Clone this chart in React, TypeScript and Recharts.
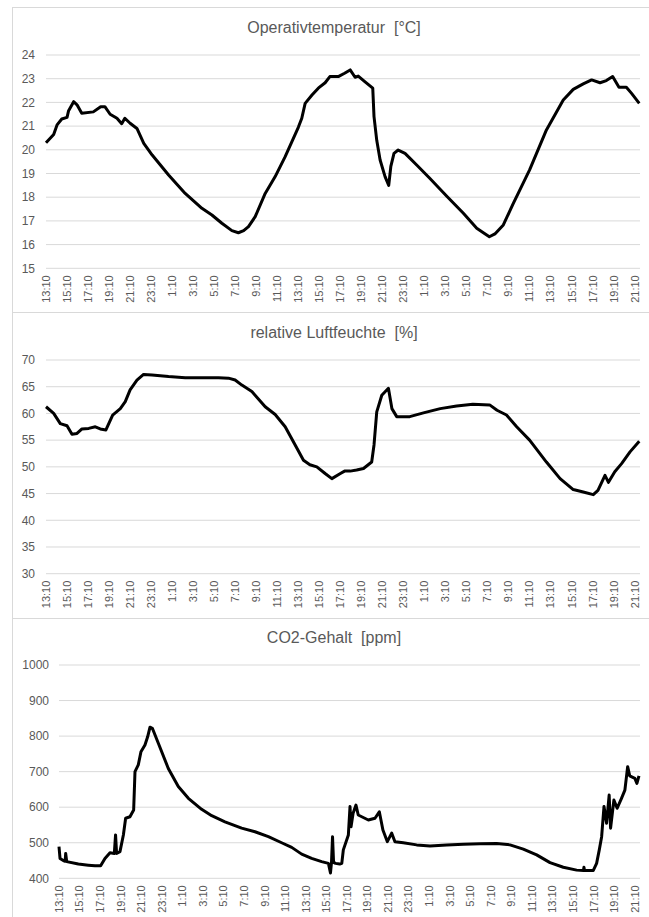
import React from "react";
import { LineChart, Line, XAxis, YAxis, CartesianGrid } from "recharts";

// x axis: hours since 13:10 on the first day, labelled every 2 h
const timeLabels = [
  "13:10", "15:10", "17:10", "19:10", "21:10", "23:10",
  "1:10", "3:10", "5:10", "7:10", "9:10", "11:10", "13:10", "15:10", "17:10", "19:10", "21:10", "23:10",
  "1:10", "3:10", "5:10", "7:10", "9:10", "11:10", "13:10", "15:10", "17:10", "19:10", "21:10",
];
const timeTicks = timeLabels.map((_, i) => i * 2);

// Operativtemperatur [°C]
const tempHours = [
  0, 0.73, 1.05, 1.5, 2.0, 2.15, 2.63, 2.95, 3.4, 4.5, 5.2, 5.6, 6.1, 6.75, 7.2, 7.5, 8.0, 8.65, 9.3,
  10.1, 11.66, 13.24, 14.83, 15.78, 16.73, 17.68, 18.3, 18.8, 19.26, 19.9, 20.85, 21.8, 22.75, 24.0,
  24.33, 24.65, 25.3, 25.9, 26.55, 27.0, 27.8, 28.4, 28.93, 29.4, 29.7, 30.35, 31.08, 31.2, 31.46,
  31.78, 32.25, 32.6, 32.8, 33.1, 33.5, 34.15, 35.26, 36.5, 38.1, 39.7, 40.97, 41.6, 42.17, 42.7,
  43.5, 44.45, 46.0, 47.6, 49.2, 50.15, 51.1, 51.9, 52.7, 53.3, 53.9, 54.5, 55.2, 55.7, 56.43,
];
const tempValues = [
  20.3, 20.65, 21.05, 21.3, 21.37, 21.65, 22.03, 21.9, 21.54, 21.6, 21.82, 21.82, 21.5, 21.33, 21.1,
  21.33, 21.12, 20.9, 20.27, 19.78, 18.94, 18.16, 17.53, 17.25, 16.9, 16.59, 16.5, 16.59, 16.76,
  17.18, 18.16, 18.87, 19.71, 20.95, 21.33, 21.96, 22.31, 22.6, 22.83, 23.09, 23.09, 23.23, 23.37,
  23.06, 23.11, 22.87, 22.6, 21.4, 20.4, 19.57, 18.87, 18.5, 19.3, 19.85, 19.99, 19.85, 19.36, 18.8,
  18.05, 17.32, 16.69, 16.5, 16.33, 16.45, 16.83, 17.74, 19.15, 20.84, 22.1, 22.55, 22.78, 22.95,
  22.83, 22.92, 23.09, 22.64, 22.64, 22.38, 21.96,
];
const tempTicks = [15, 16, 17, 18, 19, 20, 21, 22, 23, 24];

// relative Luftfeuchte [%]
const humHours = [
  0, 0.73, 1.36, 2.0, 2.47, 2.95, 3.42, 4.06, 4.69, 5.16, 5.7, 6.34, 7.07, 7.54, 8.0, 8.65, 9.28,
  10.08, 11.66, 13.24, 14.83, 16.41, 17.36, 17.99, 18.63, 19.58, 20.85, 21.8, 22.75, 23.7, 24.49,
  25.1, 25.76, 26.55, 27.19, 28.0, 28.4, 28.93, 29.55, 30.2, 30.98, 31.2, 31.46, 31.94, 32.57, 32.9,
  33.36, 34.6, 35.9, 37.5, 39.06, 40.6, 42.2, 42.9, 43.8, 44.77, 46.0, 47.6, 48.9, 50.15, 51.1,
  52.06, 52.5, 53.17, 53.5, 54.1, 54.75, 55.55, 56.43,
];
const humValues = [
  61.25, 60.0, 58.1, 57.7, 56.1, 56.25, 57.1, 57.2, 57.5, 57.1, 56.9, 59.7, 60.9, 62.2, 64.4, 66.25,
  67.3, 67.2, 66.9, 66.7, 66.7, 66.7, 66.6, 66.25, 65.3, 64.1, 61.25, 59.8, 57.5, 54.1, 51.25, 50.4,
  50.0, 48.75, 47.8, 48.75, 49.2, 49.2, 49.4, 49.7, 50.9, 54.1, 60.3, 63.4, 64.7, 60.9, 59.4, 59.4,
  60.1, 60.9, 61.4, 61.7, 61.6, 60.6, 59.7, 57.5, 55.0, 50.9, 47.8, 45.75, 45.3, 44.8, 45.6, 48.4,
  47.1, 49.1, 50.6, 52.8, 54.8,
];
const humTicks = [30, 35, 40, 45, 50, 55, 60, 65, 70];

// CO2-Gehalt [ppm]
const co2Hours = [
  0, 0.1, 0.42, 0.6, 0.65, 0.75, 1.88, 2.85, 3.5, 4.05, 4.47, 4.96, 5.38, 5.5, 5.6, 5.93, 6.26, 6.48,
  6.9, 7.26, 7.39, 7.71, 7.97, 8.36, 8.62, 8.85, 9.08, 9.66, 10.63, 11.6, 12.58, 13.87, 14.85, 16.14,
  17.76, 19.06, 20.36, 21.65, 22.63, 23.6, 24.57, 25.54, 26.2, 26.4, 26.5, 26.6, 26.7, 26.9, 27.3,
  27.5, 27.65, 28.14, 28.3, 28.4, 28.6, 28.88, 29.1, 30.08, 30.73, 31.15, 31.5, 31.93, 32.35, 32.67,
  33.48, 34.78, 36.08, 37.7, 39.33, 40.95, 42.56, 43.86, 45.15, 46.45, 47.75, 49.04, 50.34, 51.0,
  51.05, 51.1, 51.96, 52.28, 52.54, 52.77, 53.0, 53.25, 53.5, 53.64, 53.96, 54.28, 54.7, 55.03, 55.3,
  55.5, 56.0, 56.2, 56.4,
];
const co2Values = [
  489, 456, 450, 448, 470, 447, 440, 437, 435, 435, 456, 472, 470, 522, 470, 475, 522, 569, 573, 592,
  700, 719, 756, 775, 798, 825, 822, 780, 709, 658, 625, 594, 576, 559, 541, 531, 517, 500, 487, 468,
  456, 447, 442, 415, 445, 517, 445, 442, 440, 442, 480, 522, 602, 545, 583, 606, 578, 564, 569, 587,
  536, 503, 527, 503, 500, 494, 491, 494, 496, 497, 498, 494, 482, 466, 444, 431, 423, 422, 431, 422,
  422, 442, 480, 517, 602, 555, 634, 541, 620, 597, 625, 648, 714, 688, 681, 667, 688,
];
const co2Ticks = [400, 500, 600, 700, 800, 900, 1000];

const FONT = '"Liberation Sans", Arial, sans-serif';
const TEXT = "#595959";
const GRID = "#d9d9d9";

const zip = (hours: number[], values: number[]) => hours.map((h, i) => ({ h, v: values[i] }));

function TimeTick(props: any) {
  const { x, y, payload } = props;
  const label = timeLabels[Math.round(payload.value / 2)];
  return (
    <text
      x={x}
      y={y}
      transform={`rotate(-90, ${x}, ${y})`}
      textAnchor="end"
      dy="0.35em"
      fontSize={11}
      fill={TEXT}
      fontFamily={FONT}
    >
      {label}
    </text>
  );
}

interface PanelProps {
  top: number;
  height: number;
  data: { h: number; v: number }[];
  yTicks: number[];
  yWidth: number;
  yMargin: number;
  marginTop: number;
  xHeight: number;
}

function Panel({ top, height, data, yTicks, yWidth, yMargin, marginTop, xHeight }: PanelProps) {
  return (
    <div style={{ position: "absolute", left: 0, top }}>
      <LineChart width={649} height={height} data={data} margin={{ top: marginTop, right: 9, bottom: 0, left: 0 }}>
        <CartesianGrid vertical={false} stroke={GRID} strokeWidth={1} />
        <XAxis
          dataKey="h"
          type="number"
          domain={[0, 56.5]}
          ticks={timeTicks}
          interval={0}
          axisLine={false}
          tickLine={false}
          tickSize={0}
          tickMargin={7}
          height={xHeight}
          tick={<TimeTick />}
        />
        <YAxis
          type="number"
          domain={[yTicks[0], yTicks[yTicks.length - 1]]}
          ticks={yTicks}
          interval={0}
          axisLine={false}
          tickLine={false}
          tickSize={0}
          tickMargin={yMargin}
          width={yWidth}
          tick={{ fontSize: 12, fill: TEXT, fontFamily: FONT }}
        />
        <Line
          dataKey="v"
          type="linear"
          stroke="#000"
          strokeWidth={3}
          strokeLinejoin="round"
          dot={false}
          isAnimationActive={false}
        />
      </LineChart>
    </div>
  );
}

function Title({ top, text }: { top: number; text: string }) {
  return (
    <div
      style={{
        position: "absolute",
        left: 234,
        width: 200,
        top: top - 10,
        height: 20,
        lineHeight: "20px",
        textAlign: "center",
        fontSize: 16,
        color: TEXT,
        fontFamily: FONT,
        whiteSpace: "pre",
      }}
    >
      {text}
    </div>
  );
}

const border = `1px solid ${GRID}`;

export default function App() {
  return (
    <div style={{ position: "absolute", left: 0, top: 0, width: 649, height: 917, overflow: "hidden", background: "#fff" }}>
      <div style={{ position: "absolute", left: 12, top: 7, width: 700, height: 305, borderTop: border, borderLeft: border }} />
      <div style={{ position: "absolute", left: 12, top: 312, width: 700, height: 306, borderTop: border, borderLeft: border }} />
      <div style={{ position: "absolute", left: 12, top: 618, width: 700, height: 400, borderTop: border, borderLeft: border }} />

      <Title top={28} text="Operativtemperatur  [°C]" />
      <Title top={333} text="relative Luftfeuchte  [%]" />
      <Title top={638} text="CO2-Gehalt  [ppm]" />

      <Panel top={0} height={311} data={zip(tempHours, tempValues)} yTicks={tempTicks} yWidth={46} yMargin={11} marginTop={55} xHeight={42.7} />
      <Panel top={311} height={306} data={zip(humHours, humValues)} yTicks={humTicks} yWidth={46} yMargin={11} marginTop={49} xHeight={43.3} />
      <Panel top={617} height={300} data={zip(co2Hours, co2Values)} yTicks={co2Ticks} yWidth={59} yMargin={10} marginTop={48} xHeight={38.7} />
    </div>
  );
}
